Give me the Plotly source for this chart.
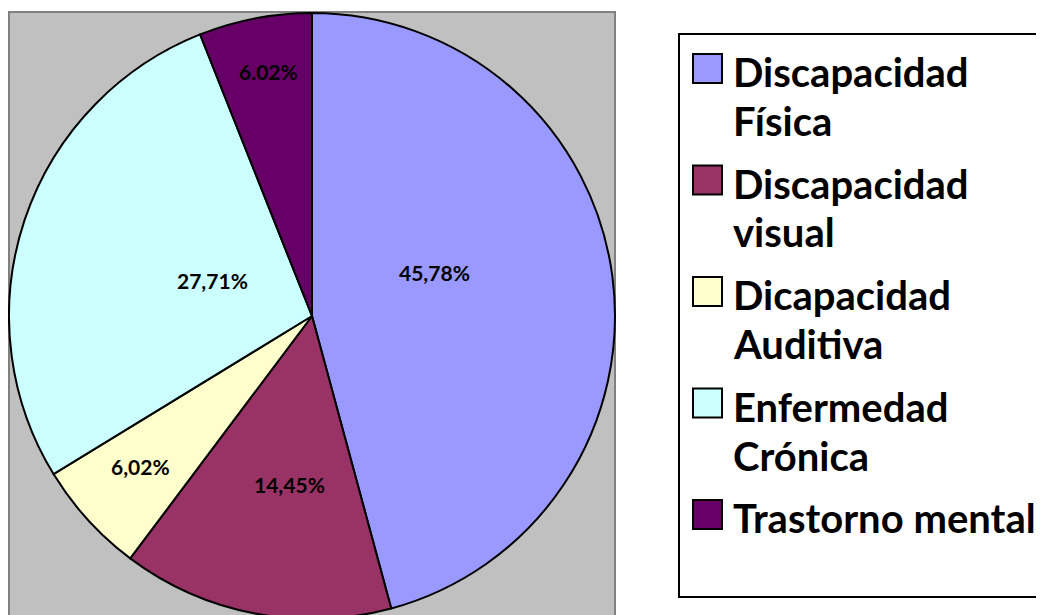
import math
import plotly.graph_objects as go

# ---- data ----
categories = ["Discapacidad Física", "Discapacidad visual", "Dicapacidad Auditiva",
              "Enfermedad Crónica", "Trastorno mental"]
values = [45.78, 14.45, 6.02, 27.71, 6.02]
value_labels = ["45,78%", "14,45%", "6,02%", "27,71%", "6.02%"]
colors = ["#9999FF", "#993366", "#FFFFCC", "#CCFFFF", "#660066"]

# ---- label placement style (fraction of radius, angular shift in degrees) ----
label_r = [0.43, 0.56, 0.755, 0.35, 0.82]
label_shift = [-11.7, -3.3, 1.0, 1.4, 0.8]

# ---- layout constants (page pixels; body has an 8px margin) ----
W, H = 1044, 615
OFF = 8
cx, cy, R = 312, 316, 303
FONT = "Lato"


def px_x(x):
    return (x - OFF) / W


def px_y(y):
    return (H - (y - OFF)) / H


fig = go.Figure()
fig.add_trace(go.Pie(
    labels=categories,
    values=values,
    textinfo="none",
    sort=False,
    direction="clockwise",
    rotation=0,
    marker=dict(colors=colors, line=dict(color="black", width=2)),
    domain=dict(x=[px_x(cx - R), px_x(cx + R)], y=[px_y(cy + R), px_y(cy - R)]),
    showlegend=False,
    hoverinfo="skip",
))

shapes = [
    # plot area
    dict(type="rect", xref="paper", yref="paper",
         x0=px_x(9), x1=px_x(615), y0=-0.1, y1=px_y(12),
         fillcolor="#C0C0C0", line=dict(color="#808080", width=2), layer="below"),
    # legend box
    dict(type="rect", xref="paper", yref="paper",
         x0=px_x(679), x1=1.05, y0=px_y(597), y1=px_y(34),
         fillcolor="white", line=dict(color="black", width=2), layer="below"),
]
annotations = []

# data labels, placed from the cumulative slice angles
total = sum(values)
cum = 0.0
for v, lab, rf, sh in zip(values, value_labels, label_r, label_shift):
    mid = (cum + v / 2) / total * 360 + sh
    cum += v
    a = math.radians(mid)
    lx = cx + rf * R * math.sin(a)
    ly = cy - rf * R * math.cos(a)
    annotations.append(dict(
        xref="paper", yref="paper", x=px_x(lx), y=px_y(ly),
        xanchor="center", yanchor="middle", showarrow=False, text=lab,
        font=dict(family=FONT, size=21, color="black", weight="bold"),
    ))

# legend
item_gap = 111.5
line_gap = 49
for i, (cat, col) in enumerate(zip(categories, colors)):
    ytop = 72 + item_gap * i
    shapes.append(dict(type="rect", xref="paper", yref="paper",
                       x0=px_x(693), x1=px_x(722),
                       y0=px_y(ytop + 11), y1=px_y(ytop - 18),
                       fillcolor=col, line=dict(color="black", width=2)))
    lines = [cat] if len(cat) <= 16 else cat.split(" ", 1)
    for j, ln in enumerate(lines):
        annotations.append(dict(
            xref="paper", yref="paper", x=px_x(731), y=px_y(ytop + line_gap * j),
            xanchor="left", yanchor="middle", showarrow=False, text=ln,
            font=dict(family=FONT, size=40, color="black", weight="bold"),
        ))

fig.update_layout(
    width=W, height=H,
    margin=dict(l=0, r=0, t=0, b=0),
    paper_bgcolor="white",
    plot_bgcolor="white",
    shapes=shapes,
    annotations=annotations,
    showlegend=False,
)

fig.write_html("out.html")
